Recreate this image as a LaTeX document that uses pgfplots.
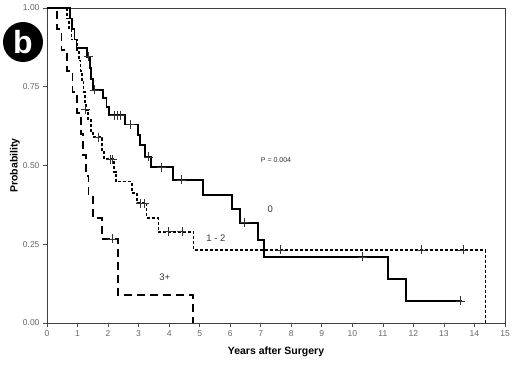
\documentclass[border=0pt]{standalone}
\usepackage{pgfplots}
\pgfplotsset{compat=1.18}
\usepackage{fontspec}
\setmainfont{Liberation Sans}
\begin{document}
\begin{tikzpicture}
\begin{axis}[
  scale only axis, width=458pt, height=315pt,
  xmin=0, xmax=15, ymin=0, ymax=1,
  xtick={0,1,...,15}, ytick={0,0.25,0.5,0.75,1},
  y tick label style={/pgf/number format/.cd, fixed, fixed zerofill, precision=2},
  /pgf/number format/assume math mode=true,
  tick align=outside, tick pos=left, major tick length=4pt,
  tick style={black!70, line width=0.7pt},
  ticklabel style={font=\fontsize{8.5}{10}\selectfont, text=black!60},
  axis line style={black!75, line width=0.9pt},
  xlabel={\textbf{Years after Surgery}}, ylabel={\textbf{Probability}},
  label style={font=\fontsize{10.5}{12}\selectfont},
  xlabel style={at={(axis description cs:0.5,-0.092)}, anchor=center},
  ylabel style={at={(axis description cs:-0.07,0.5)}, anchor=center},
  clip=false,
]
% group 0 (solid)
\addplot[const plot, black, line width=1.7pt] table {
0 1
0.75 0.967
0.82 0.933
0.90 0.90
0.97 0.873
1.31 0.845
1.40 0.81
1.45 0.775
1.50 0.74
1.84 0.714
1.95 0.686
2.02 0.66
2.56 0.63
2.98 0.597
3.05 0.565
3.21 0.527
3.41 0.495
4.13 0.454
5.11 0.406
6.06 0.362
6.33 0.318
6.90 0.264
7.11 0.21
11.17 0.14
11.76 0.07
13.60 0.07
};
\addplot[only marks, mark=+, mark size=4.5pt, black!80, mark options={line width=0.7pt}] table {
1.36 0.845
1.56 0.74
2.22 0.66
2.31 0.66
2.40 0.66
2.72 0.63
3.32 0.527
3.76 0.495
4.41 0.454
6.47 0.318
10.33 0.21
13.54 0.07
};
% group 1-2 (short dashes)
\addplot[const plot, black, line width=1.7pt, dash pattern=on 3pt off 2pt] table {
0 1
0.66 0.967
0.72 0.933
0.80 0.90
0.98 0.867
1.05 0.833
1.10 0.80
1.15 0.767
1.20 0.733
1.24 0.70
1.27 0.677
1.35 0.645
1.45 0.61
1.50 0.59
1.80 0.549
1.87 0.52
2.20 0.48
2.25 0.449
2.78 0.413
2.95 0.38
3.26 0.333
3.65 0.29
4.80 0.232
14.36 0
};
\addplot[only marks, mark=+, mark size=4.5pt, black!80, mark options={line width=0.7pt}] table {
1.26 0.677
1.68 0.59
2.08 0.52
2.14 0.52
3.05 0.38
3.20 0.38
3.98 0.29
4.42 0.29
7.64 0.232
12.26 0.232
13.62 0.232
};
% group 3+ (long dashes)
\addplot[const plot, black, line width=1.7pt, dash pattern=on 8pt off 5pt] table {
0 1
0.33 0.933
0.47 0.867
0.66 0.80
0.84 0.733
0.99 0.667
1.12 0.60
1.17 0.533
1.28 0.467
1.36 0.40
1.50 0.333
1.80 0.267
2.33 0.089
4.79 0
};
\addplot[only marks, mark=+, mark size=4.5pt, black!80, mark options={line width=0.7pt}] table {
2.13 0.267
};
\node[font=\fontsize{7}{8}\selectfont, text=black!80] at (axis cs:7.5,0.517) {P = 0.004};
\node[font=\fontsize{9.5}{11}\selectfont, text=black!80] at (axis cs:7.31,0.362) {0};
\node[font=\fontsize{9.5}{11}\selectfont, text=black!80] at (axis cs:5.53,0.27) {1 - 2};
\node[font=\fontsize{9.5}{11}\selectfont, text=black!80] at (axis cs:3.86,0.146) {3+};
\end{axis}
\node[circle, fill=black, minimum size=40pt, inner sep=0pt, text=white,
      font=\bfseries\fontsize{32}{32}\selectfont]
      at ([shift={(-24pt,-34pt)}]current axis.north west) {b};
\pgfresetboundingbox
\path[use as bounding box] ([shift={(-47pt,-42pt)}]current axis.south west) rectangle ([shift={(7pt,8pt)}]current axis.north east);
\end{tikzpicture}
\end{document}
